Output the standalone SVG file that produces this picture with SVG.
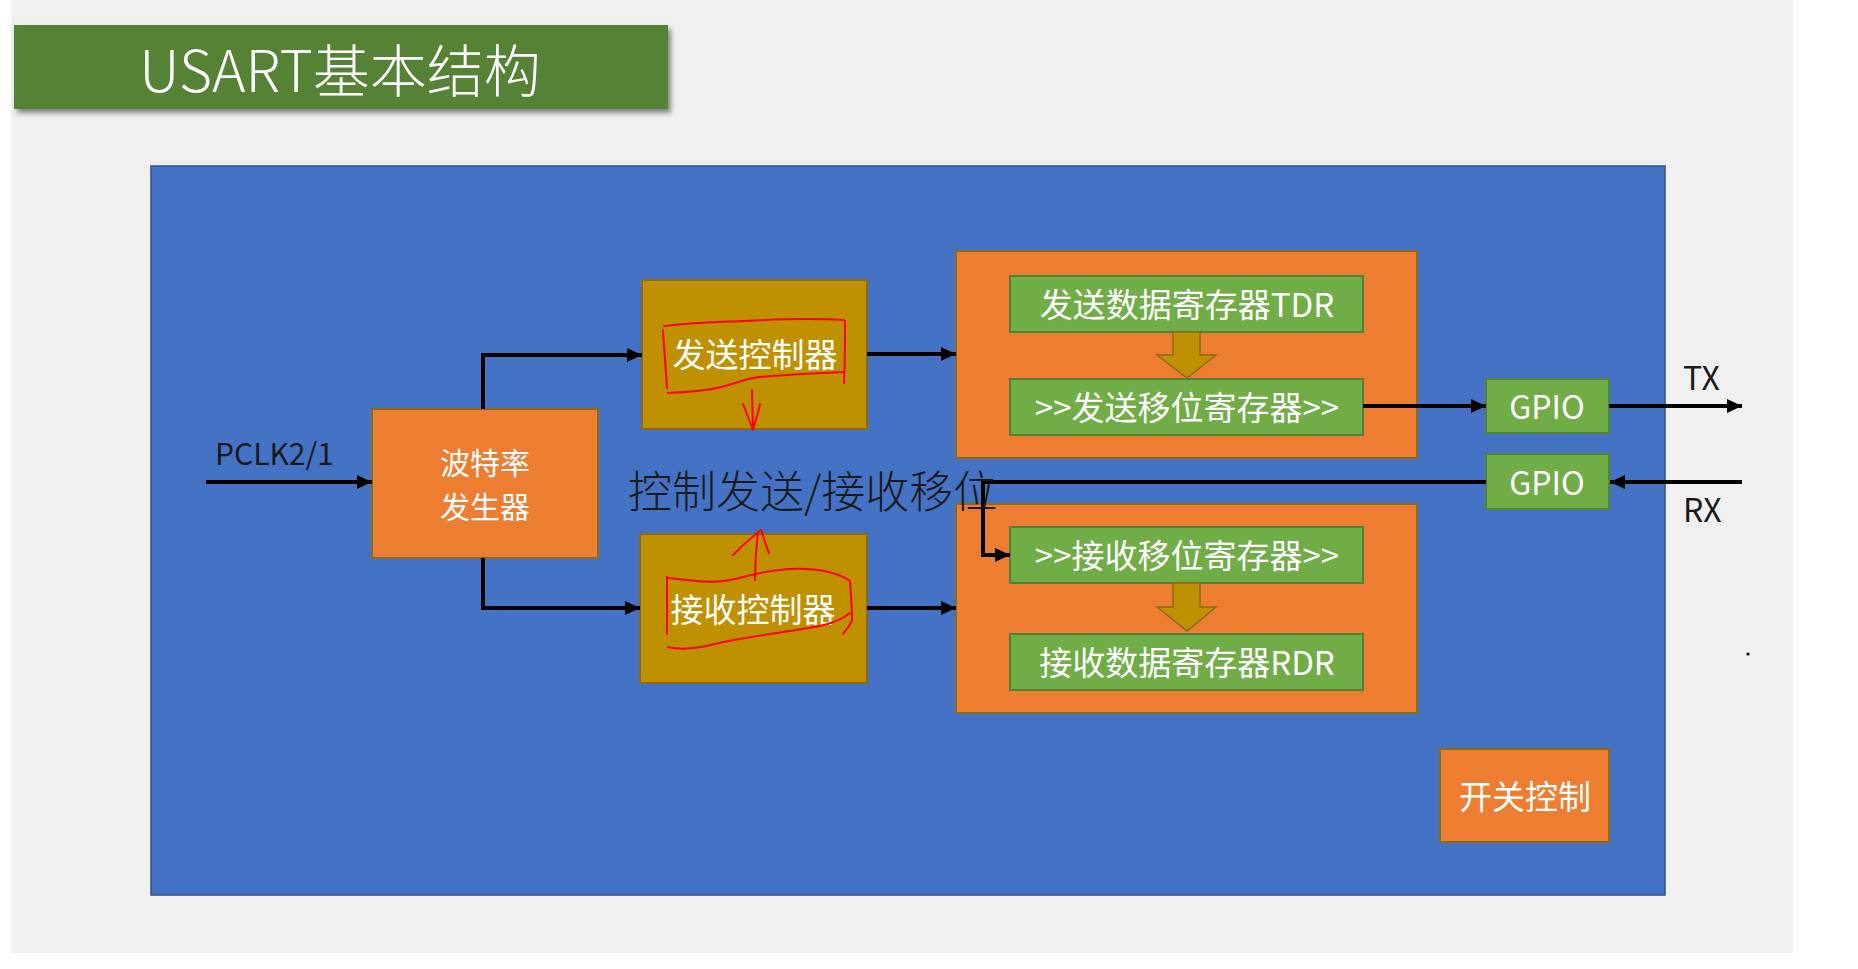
<svg xmlns="http://www.w3.org/2000/svg" width="1858" height="969" viewBox="0 0 1858 969">
<defs>
<marker id="ah" markerUnits="userSpaceOnUse" markerWidth="16" markerHeight="16" viewBox="0 0 16 16" refX="15" refY="8" orient="auto">
<path d="M0,1 L15,8 L0,15 Z" fill="#000"/>
</marker>
<filter id="sh" x="-5%" y="-20%" width="115%" height="160%">
<feDropShadow dx="3" dy="4" stdDeviation="2.5" flood-color="#000" flood-opacity="0.45"/>
</filter>
<style>
.t{font-family:"Noto Sans CJK SC","Noto Sans",sans-serif;fill:#fff;text-anchor:middle;dominant-baseline:central}
.k{font-family:"Noto Sans CJK SC","Noto Sans",sans-serif;fill:#1a1a1a}
.org{fill:#ed7d31;stroke:#8c6a1c;stroke-width:2}
.gold{fill:#bf9000;stroke:#8c6a1c;stroke-width:2}
.grn{fill:#70ad47;stroke:#548235;stroke-width:2}
.blk{fill:#bf9000;stroke:#8c6a1c;stroke-width:1.5}
.ln{fill:none;stroke:#000;stroke-width:4}
.red{fill:none;stroke:#ff0000;stroke-width:2;stroke-linecap:round;stroke-linejoin:round}
</style>
</defs>
<rect x="0" y="0" width="1858" height="969" fill="#ffffff"/>
<rect x="11" y="0" width="1782" height="953" fill="#f0f0f0"/>

<g id="title">
<rect x="14" y="25" width="654" height="84" fill="#548235" filter="url(#sh)"/>
<text class="t" x="340" y="67" font-size="57" font-weight="300">USART基本结构</text>
</g>

<g id="usart">
<rect x="151" y="166" width="1514" height="729" fill="#4472c4" stroke="#2f528f" stroke-width="1.5"/>
</g>

<g id="baud">
<rect class="org" x="372" y="409" width="226" height="149"/>
<text class="t" font-size="30"><tspan x="485" y="461">波特率</tspan><tspan x="485" y="505">发生器</tspan></text>
</g>

<g id="pclk">
<text class="k" x="215" y="465" font-size="30">PCLK2/1</text>
</g>

<g id="txctrl">
<rect class="gold" x="642" y="280" width="225" height="149"/>
<text class="t" x="755" y="353" font-size="33">发送控制器</text>
</g>

<g id="rxctrl">
<rect class="gold" x="640" y="534" width="227" height="149"/>
<text class="t" x="753" y="608" font-size="33">接收控制器</text>
</g>

<g id="txbox">
<rect class="org" x="956" y="251" width="461" height="207"/>
</g>
<g id="tdr">
<rect class="grn" x="1010" y="276" width="353" height="56"/>
<text class="t" x="1187" y="303" font-size="33">发送数据寄存器TDR</text>
</g>
<g id="txshift">
<rect class="grn" x="1010" y="379" width="353" height="56"/>
<text class="t" x="1187" y="406" font-size="33">&gt;&gt;发送移位寄存器&gt;&gt;</text>
</g>

<g id="rxbox">
<rect class="org" x="956" y="504" width="461" height="209"/>
</g>
<g id="rxshift">
<rect class="grn" x="1010" y="527" width="353" height="56"/>
<text class="t" x="1187" y="554" font-size="33">&gt;&gt;接收移位寄存器&gt;&gt;</text>
</g>
<g id="rdr">
<rect class="grn" x="1010" y="634" width="353" height="56"/>
<text class="t" x="1187" y="661" font-size="33">接收数据寄存器RDR</text>
</g>

<g id="gpiotx">
<rect class="grn" x="1486" y="379" width="123" height="54"/>
<text class="t" x="1547" y="405" font-size="32">GPIO</text>
</g>
<g id="gpiorx">
<rect class="grn" x="1486" y="454" width="123" height="55"/>
<text class="t" x="1547" y="481" font-size="32">GPIO</text>
</g>

<g id="switch">
<rect class="org" x="1440" y="749" width="169" height="93"/>
<text class="t" x="1525" y="795" font-size="33">开关控制</text>
</g>

<g id="tx">
<text class="k" x="1683" y="390" font-size="32">TX</text>
</g>
<g id="rx">
<text class="k" x="1683" y="522" font-size="32">RX</text>
</g>

<g id="connectors">
<path class="ln" d="M206,482 H372" marker-end="url(#ah)"/>
<path class="ln" d="M483,409 V355 H642" marker-end="url(#ah)"/>
<path class="ln" d="M483,558 V608 H640" marker-end="url(#ah)"/>
<path class="ln" d="M867,354 H956" marker-end="url(#ah)"/>
<path class="ln" d="M867,608 H956" marker-end="url(#ah)"/>
<path class="ln" d="M1363,406 H1486" marker-end="url(#ah)"/>
<path class="ln" d="M1609,406 H1742" marker-end="url(#ah)"/>
<path class="ln" d="M1742,482 H1610" marker-end="url(#ah)"/>
<path class="ln" d="M1486,482 H983 V555 H1010" marker-end="url(#ah)"/>
<polygon class="blk" points="1173,332 1200,332 1200,355 1216,355 1187,378 1157,355 1173,355"/>
<polygon class="blk" points="1173,583 1200,583 1200,607 1216,607 1187,631 1157,607 1173,607"/>
</g>

<g id="annotations">
<path class="red" d="M664,326 C700,322 722,322 745,321 C780,319 810,318 844,320"/>
<path class="red" d="M663,330 C664,350 666,370 667,388"/>
<path class="red" d="M845,321 C845,342 845,362 844,383"/>
<path class="red" d="M668,393 C690,392 712,390 725,386 C740,382 748,378 760,377 C780,375 800,374 843,372"/>
<path class="red" d="M752,390 C752,405 753,418 753,430 M743,404 C747,414 750,422 753,430 M760,404 C758,414 755,422 753,430"/>
<path class="red" d="M755,580 C755,565 756,548 758,532 M733,555 C743,545 752,537 761,530 M761,530 C764,538 766,546 769,553"/>
<path class="red" d="M668,578 C690,580 712,584 730,580 C750,576 765,570 790,569 C815,568 835,572 849,580"/>
<path class="red" d="M667,577 C667,597 667,615 667,634"/>
<path class="red" d="M850,581 C851,595 852,608 852,620 C850,626 846,630 843,634"/>
<path class="red" d="M668,647 C680,650 695,649 715,644 C740,638 760,636 790,631 C815,627 835,625 850,613"/>
<text class="k" x="628" y="508" font-size="44" font-weight="300" fill="#111">控制发送/接收移位</text>
<circle cx="1748" cy="654" r="1.6" fill="#000"/>
</g>
</svg>
